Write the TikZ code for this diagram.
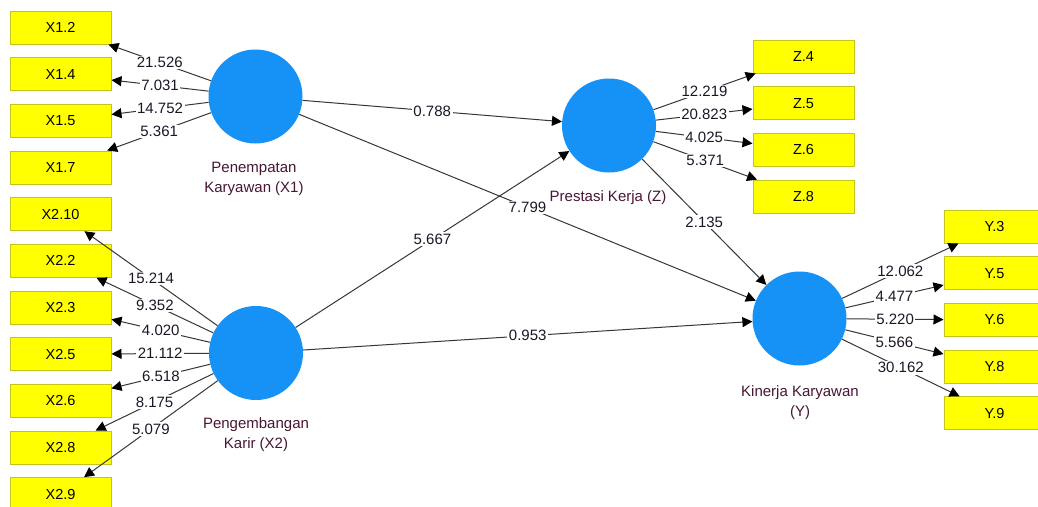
\documentclass[tikz,border=0pt]{standalone}
\usepackage{fontspec}
\setmainfont{Liberation Sans}
\usetikzlibrary{arrows.meta}

\definecolor{latentblue}{RGB}{22,145,245}
\definecolor{itemyellow}{RGB}{255,255,0}
\definecolor{itemborder}{RGB}{196,196,30}
\definecolor{pathgray}{RGB}{55,55,55}
\definecolor{labeltext}{RGB}{72,22,52}
\definecolor{numtext}{RGB}{30,22,40}

\begin{document}
\begin{tikzpicture}[x=1pt,y=-1pt,
  indicator/.style={draw=itemborder, fill=itemyellow, line width=1pt,
    minimum width=101pt, minimum height=33pt, inner sep=0pt,
    font=\fontsize{14.5}{17}\selectfont},
  latent/.style={circle, fill=latentblue, minimum size=94pt, inner sep=0pt},
  latentname/.style={anchor=north, inner sep=0pt, align=center,
    text=labeltext, font=\fontsize{15}{20}\selectfont},
  link/.style={draw=pathgray, line width=1pt,
    -{Triangle[length=10pt,width=10pt,color=black]}},
  coef/.style={fill=white, inner sep=1.5pt, text=numtext,
    font=\fontsize{15}{17}\selectfont}
]
\clip (0,0) rectangle (1038,506);
\fill[white] (0,0) rectangle (1038,506);

% latent variables
\node[latent] (x1) at (255.5,96.5) {};
\node[latent] (x2) at (256,353) {};
\node[latent] (z)  at (609,125.5) {};
\node[latent] (y)  at (799.5,318.5) {};

\node[latentname] (x1name) at (254,161.5) {Penempatan\\Karyawan (X1)};
\node[latentname] (x2name) at (256,417.5) {Pengembangan\\Karir (X2)};
\node[latentname] (zname)  at (608,190)   {Prestasi Kerja (Z)};
\node[latentname] (yname)  at (800,385)   {Kinerja Karyawan\\(Y)};

% indicators of X1 and X2
\node[indicator] (x12)  at (60.5,27.5)  {X1.2};
\node[indicator] (x14)  at (60.5,74.2)  {X1.4};
\node[indicator] (x15)  at (60.5,120.8) {X1.5};
\node[indicator] (x17)  at (60.5,167.5) {X1.7};
\node[indicator] (x210) at (60.5,214.2) {X2.10};
\node[indicator] (x22)  at (60.5,260.8) {X2.2};
\node[indicator] (x23)  at (60.5,307.5) {X2.3};
\node[indicator] (x25)  at (60.5,354.2) {X2.5};
\node[indicator] (x26)  at (60.5,400.8) {X2.6};
\node[indicator] (x28)  at (60.5,447.5) {X2.8};
\node[indicator] (x29)  at (60.5,494.2) {X2.9};

% indicators of Z
\node[indicator] (z4) at (803.5,56.5)  {Z.4};
\node[indicator] (z5) at (803.5,103.2) {Z.5};
\node[indicator] (z6) at (803.5,149.9) {Z.6};
\node[indicator] (z8) at (803.5,196.6) {Z.8};

% indicators of Y
\node[indicator] (y3) at (994.5,226.5) {Y.3};
\node[indicator] (y5) at (994.5,273.2) {Y.5};
\node[indicator] (y6) at (994.5,319.9) {Y.6};
\node[indicator] (y8) at (994.5,366.6) {Y.8};
\node[indicator] (y9) at (994.5,413.3) {Y.9};

% outer loadings (t values)
\draw[link] (x1) -- node[coef] {21.526} (x12);
\draw[link] (x1) -- node[coef] {7.031}  (x14);
\draw[link] (x1) -- node[coef] {14.752} (x15);
\draw[link] (x1) -- node[coef] {5.361}  (x17);

\draw[link] (x2) -- node[coef] {15.214} (x210);
\draw[link] (x2) -- node[coef] {9.352}  (x22);
\draw[link] (x2) -- node[coef] {4.020}  (x23);
\draw[link] (x2) -- node[coef] {21.112} (x25);
\draw[link] (x2) -- node[coef] {6.518}  (x26);
\draw[link] (x2) -- node[coef] {8.175}  (x28);
\draw[link] (x2) -- node[coef] {5.079}  (x29);

\draw[link] (z) -- node[coef] {12.219} (z4);
\draw[link] (z) -- node[coef] {20.823} (z5);
\draw[link] (z) -- node[coef] {4.025}  (z6);
\draw[link] (z) -- node[coef] {5.371}  (z8);

\draw[link] (y) -- node[coef] {12.062} (y3);
\draw[link] (y) -- node[coef] {4.477}  (y5);
\draw[link] (y) -- node[coef] {5.220}  (y6);
\draw[link] (y) -- node[coef] {5.566}  (y8);
\draw[link] (y) -- node[coef] {30.162} (y9);

% structural paths
\draw[link] (x1) -- node[coef] {0.788} (z);
\draw[link] (x1) -- node[coef] {7.799} (y);
\draw[link] (x2) -- node[coef] {5.667} (z);
\draw[link] (x2) -- node[coef] {0.953} (y);
\draw[link] (z)  -- node[coef] {2.135} (y);
\end{tikzpicture}
\end{document}
